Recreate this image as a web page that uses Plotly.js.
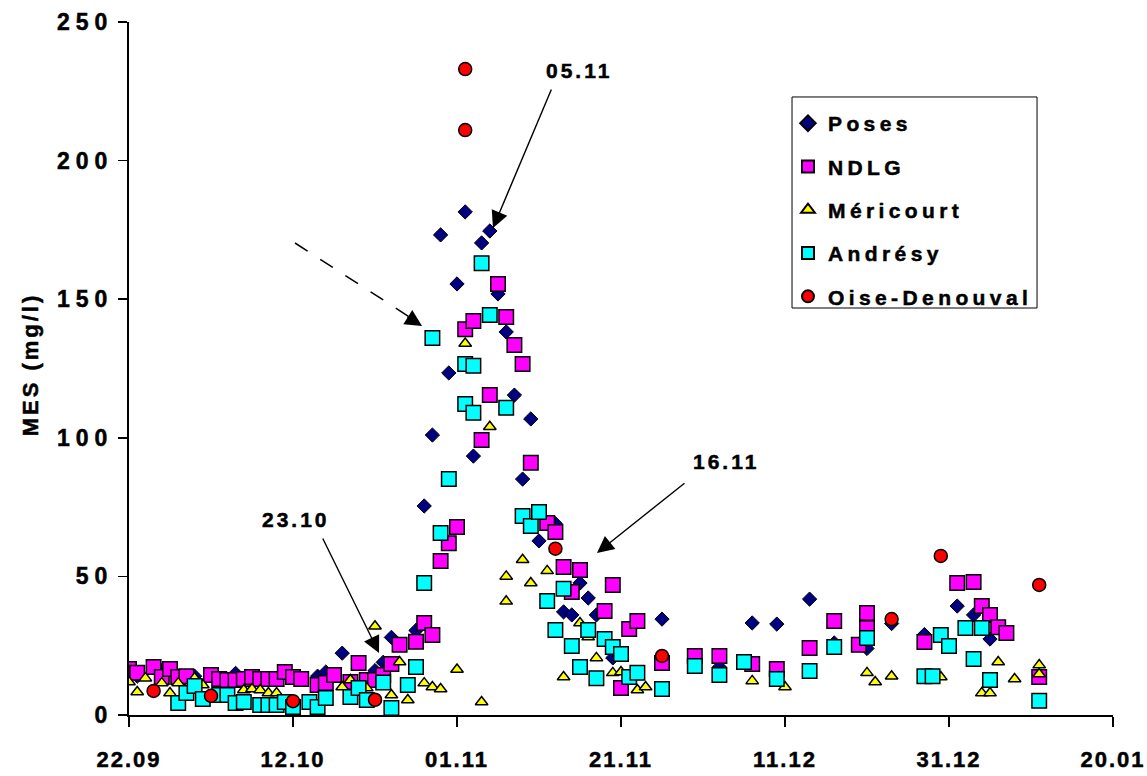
<!DOCTYPE html>
<html>
<head>
<meta charset="utf-8">
<script src="https://cdn.plot.ly/plotly-3.0.1.min.js"></script>
<style>
  html, body { margin: 0; padding: 0; background: #fff; }
  #chart { width: 1147px; height: 776px; }
  .legendtext { letter-spacing: 4.4px; stroke: #000; stroke-width: 0.5px; }
  .ytick text { letter-spacing: 6px; stroke: #000; stroke-width: 0.5px; }
  .xtick text { letter-spacing: 2px; stroke: #000; stroke-width: 0.5px; }
  .annotation-text { letter-spacing: 3px; stroke: #000; stroke-width: 0.5px; }
</style>
</head>
<body>
<div id="chart"></div>
<script>
// ---- Data (dates of sampling, MES in mg/l) ----
const posesDates = ["2000-09-23","2000-09-26","2000-09-30","2000-10-05","2000-10-09","2000-10-12","2000-10-15","2000-10-16","2000-10-18","2000-10-22","2000-10-23","2000-10-24","2000-10-27","2000-10-28","2000-10-29","2000-10-30","2000-10-31","2000-11-01","2000-11-02","2000-11-03","2000-11-04","2000-11-05","2000-11-06","2000-11-07","2000-11-08","2000-11-09","2000-11-10","2000-11-11","2000-11-13","2000-11-14","2000-11-15","2000-11-16","2000-11-17","2000-11-18","2000-11-20","2000-11-26","2000-12-03","2000-12-07","2000-12-10","2000-12-14","2000-12-17","2000-12-21","2000-12-24","2000-12-28","2001-01-01","2001-01-03","2001-01-05"];
const posesValues = [14,16,14,15,13,14,14,15.5,22.3,16,19,28,30.5,75.4,101,173.2,123.4,155.5,181.5,93.4,170.3,174.6,151.9,138.2,115.4,85.1,106.8,62.8,69,37.2,36.1,47.6,42.2,36.1,20.6,34.6,17.3,33.2,32.8,41.8,26,24,33,29,39.3,36.1,27.4];

const ndlgDates = ["2000-09-22","2000-09-23","2000-09-25","2000-09-26","2000-09-27","2000-09-28","2000-09-29","2000-10-02","2000-10-03","2000-10-04","2000-10-05","2000-10-06","2000-10-07","2000-10-08","2000-10-09","2000-10-10","2000-10-11","2000-10-12","2000-10-13","2000-10-15","2000-10-16","2000-10-17","2000-10-19","2000-10-20","2000-10-21","2000-10-22","2000-10-23","2000-10-24","2000-10-25","2000-10-27","2000-10-28","2000-10-29","2000-10-30","2000-10-31","2000-11-01","2000-11-02","2000-11-03","2000-11-04","2000-11-05","2000-11-06","2000-11-07","2000-11-08","2000-11-09","2000-11-10","2000-11-12","2000-11-13","2000-11-14","2000-11-15","2000-11-16","2000-11-19","2000-11-20","2000-11-21","2000-11-22","2000-11-23","2000-11-26","2000-11-30","2000-12-03","2000-12-07","2000-12-10","2000-12-14","2000-12-17","2000-12-20","2000-12-21","2000-12-21","2000-12-28","2001-01-01","2001-01-03","2001-01-04","2001-01-05","2001-01-06","2001-01-07","2001-01-11"];
const ndlgValues = [16.6,15.2,17.3,13.7,16.6,13.7,14,14.4,13,12.6,12.6,13,13.7,13,13,13,15.5,13.7,13,10.8,11.5,14.4,11.9,18.8,12.6,12.6,14.4,18.4,25.3,26.4,33.2,28.9,55.6,62,67.8,139.2,142.1,99.2,115.4,155.5,143.6,133.5,126.6,91,69.3,66,53.4,44.4,52.3,37.5,46.9,9.7,31,33.9,18.8,21.3,21.3,18.4,16.6,24.2,33.9,25.3,36.8,31.4,26.3,47.6,48,39.3,36.1,31.7,29.6,13.7];

const mericourtDates = ["2000-09-22","2000-09-23","2000-09-24","2000-09-26","2000-09-27","2000-09-28","2000-09-30","2000-10-01","2000-10-06","2000-10-07","2000-10-08","2000-10-09","2000-10-10","2000-10-18","2000-10-19","2000-10-21","2000-10-22","2000-10-24","2000-10-25","2000-10-26","2000-10-28","2000-10-29","2000-10-30","2000-11-01","2000-11-02","2000-11-04","2000-11-05","2000-11-07","2000-11-07","2000-11-09","2000-11-10","2000-11-12","2000-11-14","2000-11-16","2000-11-17","2000-11-18","2000-11-20","2000-11-21","2000-11-23","2000-11-24","2000-12-07","2000-12-11","2000-12-21","2000-12-22","2000-12-24","2000-12-30","2001-01-04","2001-01-05","2001-01-06","2001-01-08","2001-01-11","2001-01-11"];
const mericourtValues = [11.9,8.3,13.3,11.5,7.9,11.5,13.3,10.8,9,9.4,9,7.9,7.9,10.1,12.6,9.7,32,7.2,19.1,5.4,11.5,10.1,9.4,16.4,134,4.7,104,50,41,56,47.6,52,13.7,33.2,28.1,20.6,15.2,15.5,9,10.1,12.3,10.1,15.2,11.9,14,13.7,7.9,7.9,19.1,13,18,14.8];

const andresyDates = ["2000-09-28","2000-09-29","2000-09-30","2000-10-01","2000-10-03","2000-10-04","2000-10-05","2000-10-06","2000-10-08","2000-10-09","2000-10-10","2000-10-11","2000-10-12","2000-10-14","2000-10-15","2000-10-16","2000-10-19","2000-10-20","2000-10-21","2000-10-23","2000-10-24","2000-10-26","2000-10-27","2000-10-28","2000-10-29","2000-10-30","2000-10-31","2000-11-02","2000-11-02","2000-11-03","2000-11-03","2000-11-04","2000-11-05","2000-11-07","2000-11-09","2000-11-10","2000-11-11","2000-11-12","2000-11-13","2000-11-14","2000-11-15","2000-11-16","2000-11-17","2000-11-18","2000-11-19","2000-11-20","2000-11-21","2000-11-22","2000-11-23","2000-11-26","2000-11-30","2000-12-03","2000-12-06","2000-12-10","2000-12-14","2000-12-17","2000-12-21","2000-12-28","2000-12-29","2000-12-30","2000-12-31","2001-01-02","2001-01-03","2001-01-04","2001-01-05","2001-01-11"];
const andresyValues = [4.3,7.9,10.5,5.8,7.2,7.2,4.3,4.7,3.6,3.6,3.6,4.7,2.9,4.7,2.9,6.1,6.5,9.7,5.4,11.7,2.5,10.8,17.3,47.6,136,65.7,85.1,112.2,126.6,109,126,163,144.3,110.8,71.8,68.2,73.2,41.1,30.7,45.5,24.9,17.3,30.7,13.3,27.4,24.5,22,13.7,15.2,9.4,17.7,14.4,19.1,13,15.9,24.5,27.8,14,14,28.9,24.9,31.4,20.2,31.4,12.6,5.1];

const oiseDates = ["2000-09-25","2000-10-02","2000-10-12","2000-10-22","2000-11-02","2000-11-02","2000-11-13","2000-11-26","2000-12-24","2000-12-30","2001-01-11"];
const oiseValues = [8.7,6.9,5,5.5,233,211,60,21.3,34.6,57.4,46.9];

const seriesNames = ["Poses","NDLG","Méricourt","Andrésy","Oise-Denouval"];
const xTickDates = ["2000-09-22","2000-10-12","2000-11-01","2000-11-21","2000-12-11","2000-12-31","2001-01-20"];
const xTickLabels = ["22.09","12.10","01.11","21.11","11.12","31.12","20.01"];
const yTitle = "MES (mg/l)";
const annotationLabels = ["05.11","16.11","23.10"];

// ---- Styling ----
const FONT = "Liberation Sans, Arial, sans-serif";
const line = {color: "#000", width: 1.5};

const traces = [
  {x: posesDates, y: posesValues, name: seriesNames[0], type: "scatter", mode: "markers",
   marker: {symbol: "diamond", size: 11, color: "#000080", line: {color: "#000", width: 1}}},
  {x: ndlgDates, y: ndlgValues, name: seriesNames[1], type: "scatter", mode: "markers",
   marker: {symbol: "square", size: 14.5, color: "#ff00ff", line: line}},
  {x: mericourtDates, y: mericourtValues, name: seriesNames[2], type: "scatter", mode: "markers",
   marker: {symbol: "triangle-up", size: 11, color: "#ffff00", line: line}},
  {x: andresyDates, y: andresyValues, name: seriesNames[3], type: "scatter", mode: "markers",
   marker: {symbol: "square", size: 14.5, color: "#00ffff", line: line}},
  {x: oiseDates, y: oiseValues, name: seriesNames[4], type: "scatter", mode: "markers",
   marker: {symbol: "circle", size: 13, color: "#ff0000", line: line}}
];
traces.forEach((t, i) => { t.legendgroup = "g" + i; });

const arrowStyle = {showarrow: true, arrowhead: 2, arrowsize: 2.4, arrowwidth: 1.4, arrowcolor: "#000",
  text: "", xref: "paper", yref: "paper", axref: "pixel", ayref: "pixel"};
const textStyle = {showarrow: false, xref: "paper", yref: "paper", xanchor: "center", yanchor: "middle",
  font: {family: FONT, size: 21, color: "#000", weight: "bold"}};

const layout = {
  width: 1147, height: 776,
  margin: {l: 129, r: 34, t: 22, b: 61},
  paper_bgcolor: "#fff", plot_bgcolor: "#fff",
  font: {family: FONT, color: "#000"},
  showlegend: true,
  legend: {
    x: 0.6697, y: 0.8831, xanchor: "left", yanchor: "top",
    borderwidth: 0, bgcolor: "rgba(0,0,0,0)",
    font: {family: FONT, size: 21, color: "#000", weight: "bold"},
    traceorder: "grouped", tracegroupgap: 13, itemsizing: "constant"
  },
  xaxis: {
    type: "date", range: ["2000-09-22", "2001-01-20"],
    tickmode: "array", tickvals: xTickDates, ticktext: xTickLabels,
    showgrid: false, zeroline: false,
    showline: true, linecolor: "#000", linewidth: 2,
    ticks: "outside", ticklen: 10, tickwidth: 1.5, tickcolor: "#000",
    ticklabelstandoff: 14, ticklabeloverflow: "allow",
    tickfont: {family: FONT, size: 22, color: "#000", weight: "bold"}
  },
  yaxis: {
    range: [0, 250], tickmode: "linear", tick0: 0, dtick: 50,
    showgrid: false, zeroline: false,
    showline: true, linecolor: "#000", linewidth: 2,
    ticks: "outside", ticklen: 9, tickwidth: 1.5, tickcolor: "#000",
    ticklabelstandoff: 0, ticklabeloverflow: "allow",
    tickfont: {family: FONT, size: 23, color: "#000", weight: "bold"}
  },
  shapes: [
    {type: "line", xref: "paper", yref: "paper", x0: 0.1687, y0: 0.6811, x1: 0.2866, y1: 0.5729,
     line: {color: "#000", width: 1.5, dash: "longdash"}},
    {type: "rect", xref: "paper", yref: "paper", x0: 0.6738, x1: 0.9228, y0: 0.5873, y1: 0.8918,
     fillcolor: "#fff", line: {color: "#000", width: 1}, layer: "above"}
  ],
  annotations: [
    {showarrow: false, xref: "paper", yref: "paper", x: -0.1006, y: 0.5060, xanchor: "center", yanchor: "middle",
     textangle: -90, text: yTitle, font: {family: FONT, size: 22, color: "#000", weight: "bold"}},
    Object.assign({}, textStyle, {x: 0.4573, y: 0.9307, text: annotationLabels[0]}),
    Object.assign({}, textStyle, {x: 0.6067, y: 0.3651, text: annotationLabels[1]}),
    Object.assign({}, textStyle, {x: 0.1697, y: 0.2814, text: annotationLabels[2]}),
    Object.assign({}, arrowStyle, {x: 0.3699, y: 0.7027, ax: 59, ay: -140}),
    Object.assign({}, arrowStyle, {x: 0.4756, y: 0.2338, ax: 89, ay: -71}),
    Object.assign({}, arrowStyle, {x: 0.2541, y: 0.0895, ax: -57, ay: -116}),
    Object.assign({}, arrowStyle, {x: 0.2978, y: 0.5613, ax: -16, ay: -10})
  ]
};

Plotly.newPlot("chart", traces, layout, {displayModeBar: false, staticPlot: true});
</script>
</body>
</html>
